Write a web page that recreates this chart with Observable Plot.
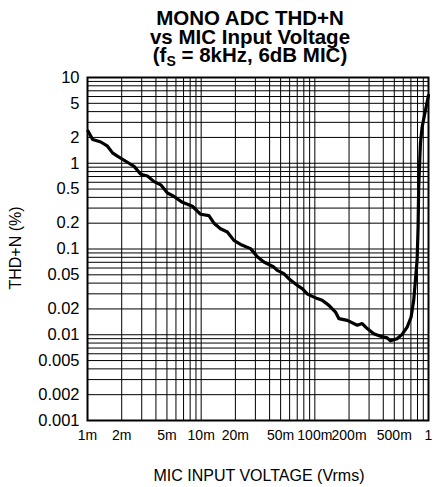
<!DOCTYPE html>
<html>
<head>
<meta charset="utf-8">
<script src="https://cdn.jsdelivr.net/npm/d3@7"></script>
<script src="https://cdn.jsdelivr.net/npm/@observablehq/plot@0.6"></script>
<style>
  html, body { margin: 0; padding: 0; background: #fff; }
  #chart { width: 433px; height: 487px; }
  svg text { font-family: "Liberation Sans", Arial, sans-serif; }
</style>
</head>
<body>
<div id="chart"></div>
<script>
// MIC input voltage (Vrms) and THD+N (%)
const micVoltage = [0.00101,0.00111,0.00131,0.0015,0.00166,0.00183,0.00232,0.00257,0.00294,0.00337,
  0.00385,0.00441,0.00505,0.00577,0.00684,0.00837,0.0099,0.0117,0.01296,0.0148,
  0.017,0.0194,0.0222,0.0272,0.0312,0.0356,0.0436,0.0467,0.0534,0.0572,0.059,0.070,0.0775,0.0857,0.0949,
  0.105,0.116,0.133,0.152,0.163,0.193,0.236,0.261,0.289,0.330,0.378,0.433,0.463,
  0.529,0.586,0.649,0.703,0.741,0.767,0.794,0.81,0.82,0.849,0.879,0.940,1.0];
const thdN = [2.38,1.89,1.77,1.58,1.32,1.21,1.0,0.92,0.745,0.71,
  0.61,0.56,0.45,0.41,0.35,0.315,0.254,0.245,0.2,0.172,
  0.158,0.126,0.113,0.101,0.081,0.0705,0.0616,0.0564,0.0516,0.047,0.045,0.0377,0.0345,0.030,0.028,
  0.0264,0.0252,0.022,0.0184,0.0154,0.0147,0.0129,0.0135,0.0118,0.0103,0.0096,0.0092,0.0085,
  0.009,0.0101,0.0123,0.0161,0.0252,0.043,0.074,0.18,0.53,1.7,2.65,4.15,6.2];

const xTicks = [0.001,0.002,0.005,0.01,0.02,0.05,0.1,0.2,0.5,1];
const xTickLabels = ["1m","2m","5m","10m","20m","50m","100m","200m","500m","1"];
const yTicks = [0.001,0.002,0.005,0.01,0.02,0.05,0.1,0.2,0.5,1,2,5,10];
const yTickLabels = ["0.001","0.002","0.005","0.01","0.02","0.05","0.1","0.2","0.5","1","2","5","10"];

const titleLines = ["MONO ADC THD+N", "vs MIC Input Voltage"];
const xLabel = "MIC INPUT VOLTAGE (Vrms)";
const yLabel = "THD+N (%)";

// grid at 1..9 x 10^k
const gridX = [];
for (let e = -3; e < 0; e++) for (let m = 1; m <= 9; m++) gridX.push(m * Math.pow(10, e));
gridX.push(1);
const gridY = [];
for (let e = -3; e < 1; e++) for (let m = 1; m <= 9; m++) gridY.push(m * Math.pow(10, e));
gridY.push(10);

const data = micVoltage.map((v, i) => ({v, t: thdN[i]}));

const plot = Plot.plot({
  width: 433,
  height: 487,
  marginLeft: 87,
  marginRight: 5,
  marginTop: 77,
  marginBottom: 67,
  style: {fontFamily: "Liberation Sans, Arial, sans-serif", color: "#000", background: "#fff"},
  x: {type: "log", domain: [0.001, 1], axis: null},
  y: {type: "log", domain: [0.001, 10], axis: null},
  marks: [
    Plot.ruleX(gridX, {x: d => d, stroke: "#000", strokeWidth: 1}),
    Plot.ruleY(gridY, {y: d => d, stroke: "#000", strokeWidth: 1}),
    Plot.text(xTicks, {x: d => d, text: (d, i) => xTickLabels[i], frameAnchor: "bottom", lineAnchor: "top", dy: 10, fontSize: 14, fill: "#000"}),
    Plot.text(yTicks, {y: d => d, text: (d, i) => yTickLabels[i], frameAnchor: "left", textAnchor: "end", dx: -8, fontSize: 16.5, fill: "#000"}),
    Plot.line(data, {x: "v", y: "t", stroke: "#000", strokeWidth: 3.2, strokeLinejoin: "round"}),
    Plot.frame({stroke: "#000", strokeWidth: 2})
  ]
});
document.getElementById("chart").appendChild(plot);

const svg = d3.select(plot);
const tg = svg.append("g").attr("font-weight", "bold").attr("font-size", 20.5).attr("text-anchor", "middle").attr("fill", "#000");
tg.append("text").attr("x", 250).attr("y", 25).text(titleLines[0]);
tg.append("text").attr("x", 250).attr("y", 44).text(titleLines[1]);
const t3 = tg.append("text").attr("x", 250).attr("y", 62);
t3.append("tspan").text("(f");
t3.append("tspan").attr("font-size", 14).attr("dy", 4).text("S");
t3.append("tspan").attr("dy", -4).text(" = 8kHz, 6dB MIC)");

svg.append("text").attr("x", 259).attr("y", 481).attr("text-anchor", "middle").attr("font-size", 16).attr("fill", "#000").text(xLabel);
svg.append("text").attr("transform", "translate(21,248) rotate(-90)").attr("text-anchor", "middle").attr("font-size", 16).attr("fill", "#000").text(yLabel);
</script>
</body>
</html>
